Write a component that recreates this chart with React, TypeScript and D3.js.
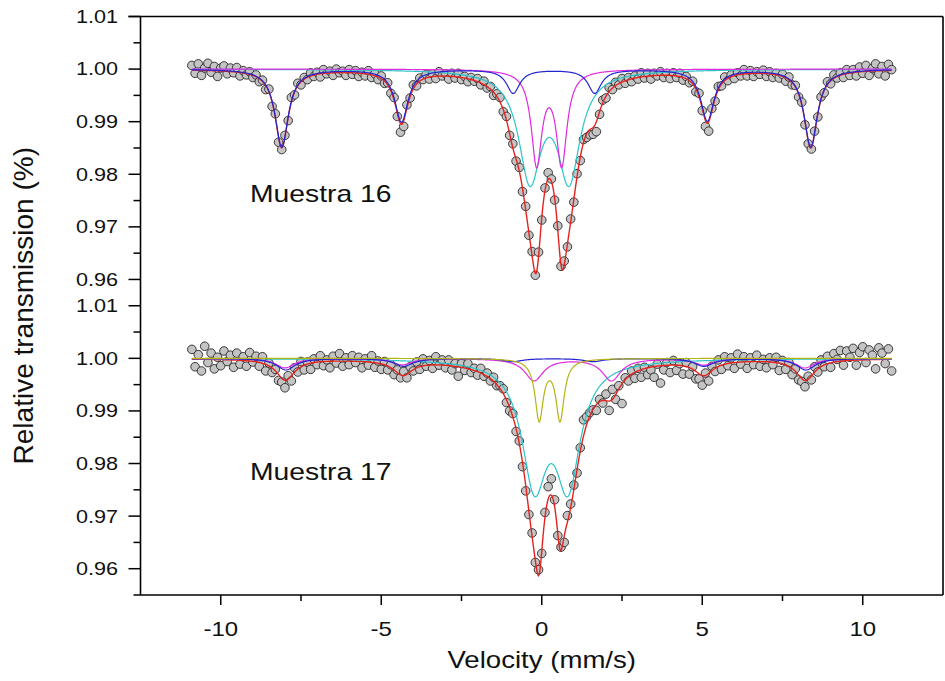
import React from "react";
import * as d3 from "d3";

// ---------- DATA ----------
// Doppler velocity of each channel (mm/s), shared by both spectra
const VELOCITY = [
  -10.9, -10.8, -10.7, -10.6, -10.5, -10.4, -10.3, -10.2, -10.1, -10.0,
  -9.9, -9.8, -9.7, -9.6, -9.5, -9.4, -9.3, -9.2, -9.1, -9.0,
  -8.9, -8.8, -8.7, -8.6, -8.5, -8.4, -8.3, -8.2, -8.1, -8.0,
  -7.9, -7.8, -7.7, -7.6, -7.5, -7.4, -7.3, -7.2, -7.1, -7.0,
  -6.9, -6.8, -6.7, -6.6, -6.5, -6.4, -6.3, -6.2, -6.1, -6.0,
  -5.9, -5.8, -5.7, -5.6, -5.5, -5.4, -5.3, -5.2, -5.1, -5.0,
  -4.9, -4.8, -4.7, -4.6, -4.5, -4.4, -4.3, -4.2, -4.1, -4.0,
  -3.9, -3.8, -3.7, -3.6, -3.5, -3.4, -3.3, -3.2, -3.1, -3.0,
  -2.9, -2.8, -2.7, -2.6, -2.5, -2.4, -2.3, -2.2, -2.1, -2.0,
  -1.9, -1.8, -1.7, -1.6, -1.5, -1.4, -1.3, -1.2, -1.1, -1.0,
  -0.9, -0.8, -0.7, -0.6, -0.5, -0.4, -0.3, -0.2, -0.1, 0.0,
  0.1, 0.2, 0.3, 0.4, 0.5, 0.6, 0.7, 0.8, 0.9, 1.0,
  1.1, 1.2, 1.3, 1.4, 1.5, 1.6, 1.7, 1.8, 1.9, 2.0,
  2.1, 2.2, 2.3, 2.4, 2.5, 2.6, 2.7, 2.8, 2.9, 3.0,
  3.1, 3.2, 3.3, 3.4, 3.5, 3.6, 3.7, 3.8, 3.9, 4.0,
  4.1, 4.2, 4.3, 4.4, 4.5, 4.6, 4.7, 4.8, 4.9, 5.0,
  5.1, 5.2, 5.3, 5.4, 5.5, 5.6, 5.7, 5.8, 5.9, 6.0,
  6.1, 6.2, 6.3, 6.4, 6.5, 6.6, 6.7, 6.8, 6.9, 7.0,
  7.1, 7.2, 7.3, 7.4, 7.5, 7.6, 7.7, 7.8, 7.9, 8.0,
  8.1, 8.2, 8.3, 8.4, 8.5, 8.6, 8.7, 8.8, 8.9, 9.0,
  9.1, 9.2, 9.3, 9.4, 9.5, 9.6, 9.7, 9.8, 9.9, 10.0,
  10.1, 10.2, 10.3, 10.4, 10.5, 10.6, 10.7, 10.8, 10.9,
];

// Measured relative transmission, Muestra 16
const T_MUESTRA16 = [
  1.0007, 0.9992, 1.0010, 0.9988, 1.0002, 1.0011, 0.9994, 1.0005, 0.9986, 1.0002,
  1.0006, 0.9991, 1.0002, 0.9993, 1.0003, 0.9987, 0.9997, 0.9989, 0.9995, 0.9984,
  0.9989, 0.9976, 0.9979, 0.9961, 0.9962, 0.9929, 0.9915, 0.9861, 0.9847, 0.9874,
  0.9902, 0.9946, 0.9951, 0.9973, 0.9970, 0.9984, 0.9980, 0.9993, 0.9986, 0.9994,
  0.9985, 0.9999, 0.9991, 0.9996, 0.9988, 1.0000, 0.9993, 0.9996, 0.9988, 0.9999,
  0.9990, 0.9997, 0.9986, 0.9994, 0.9987, 0.9997, 0.9984, 0.9991, 0.9980, 0.9987,
  0.9973, 0.9974, 0.9954, 0.9946, 0.9910, 0.9880, 0.9891, 0.9932, 0.9945, 0.9970,
  0.9968, 0.9983, 0.9980, 0.9990, 0.9981, 0.9991, 0.9982, 0.9995, 0.9987, 0.9991,
  0.9981, 0.9992, 0.9983, 0.9992, 0.9980, 0.9986, 0.9976, 0.9984, 0.9977, 0.9982,
  0.9970, 0.9977, 0.9964, 0.9967, 0.9950, 0.9953, 0.9946, 0.9919, 0.9910, 0.9874,
  0.9858, 0.9825, 0.9813, 0.9767, 0.9739, 0.9684, 0.9653, 0.9608, 0.9652, 0.9713,
  0.9774, 0.9803, 0.9791, 0.9751, 0.9702, 0.9625, 0.9635, 0.9662, 0.9715, 0.9747,
  0.9801, 0.9826, 0.9866, 0.9870, 0.9875, 0.9876, 0.9881, 0.9914, 0.9941, 0.9945,
  0.9965, 0.9961, 0.9975, 0.9970, 0.9982, 0.9973, 0.9984, 0.9976, 0.9987, 0.9981,
  0.9993, 0.9983, 0.9992, 0.9981, 0.9992, 0.9987, 0.9995, 0.9984, 0.9992, 0.9982,
  0.9993, 0.9984, 0.9992, 0.9979, 0.9986, 0.9974, 0.9977, 0.9957, 0.9954, 0.9921,
  0.9891, 0.9882, 0.9925, 0.9939, 0.9967, 0.9968, 0.9985, 0.9978, 0.9989, 0.9982,
  0.9993, 0.9987, 0.9999, 0.9987, 0.9997, 0.9986, 0.9995, 0.9990, 0.9998, 0.9986,
  0.9995, 0.9984, 0.9992, 0.9983, 0.9990, 0.9977, 0.9985, 0.9970, 0.9969, 0.9947,
  0.9937, 0.9894, 0.9858, 0.9848, 0.9882, 0.9909, 0.9947, 0.9955, 0.9976, 0.9972,
  0.9989, 0.9983, 0.9993, 0.9984, 0.9999, 0.9988, 0.9999, 0.9987, 1.0004, 0.9992,
  1.0007, 0.9988, 1.0001, 1.0010, 0.9991, 1.0005, 0.9987, 1.0009, 0.9999,
];

// Measured relative transmission, Muestra 17
const T_MUESTRA17 = [
  1.0017, 0.9984, 1.0007, 0.9976, 1.0023, 0.9992, 1.0010, 0.9980, 1.0002, 0.9986,
  1.0014, 0.9994, 1.0006, 0.9983, 1.0010, 0.9989, 1.0003, 0.9985, 1.0011, 0.9993,
  1.0004, 0.9985, 1.0003, 0.9976, 0.9991, 0.9973, 0.9979, 0.9958, 0.9955, 0.9944,
  0.9967, 0.9957, 0.9982, 0.9974, 0.9994, 0.9978, 0.9993, 0.9979, 0.9999, 0.9988,
  1.0005, 0.9986, 0.9997, 0.9982, 1.0004, 0.9991, 1.0009, 0.9985, 1.0001, 0.9988,
  1.0005, 0.9992, 1.0002, 0.9982, 0.9999, 0.9987, 1.0005, 0.9983, 0.9995, 0.9979,
  0.9994, 0.9978, 0.9988, 0.9969, 0.9978, 0.9963, 0.9975, 0.9963, 0.9984, 0.9976,
  0.9993, 0.9979, 0.9999, 0.9985, 0.9996, 0.9981, 1.0003, 0.9987, 0.9997, 0.9982,
  0.9997, 0.9978, 0.9990, 0.9966, 0.9990, 0.9977, 0.9990, 0.9973, 0.9981, 0.9968,
  0.9981, 0.9966, 0.9972, 0.9957, 0.9964, 0.9948, 0.9948, 0.9942, 0.9916, 0.9900,
  0.9895, 0.9861, 0.9843, 0.9794, 0.9748, 0.9703, 0.9668, 0.9612, 0.9598, 0.9629,
  0.9707, 0.9756, 0.9771, 0.9731, 0.9663, 0.9641, 0.9650, 0.9701, 0.9723, 0.9759,
  0.9782, 0.9830, 0.9883, 0.9889, 0.9897, 0.9902, 0.9901, 0.9922, 0.9915, 0.9932,
  0.9901, 0.9941, 0.9922, 0.9948, 0.9914, 0.9963, 0.9957, 0.9976, 0.9962, 0.9981,
  0.9964, 0.9983, 0.9969, 0.9978, 0.9964, 0.9989, 0.9953, 0.9978, 0.9992, 0.9973,
  0.9996, 0.9977, 0.9990, 0.9970, 0.9992, 0.9970, 0.9984, 0.9961, 0.9961, 0.9949,
  0.9972, 0.9957, 0.9985, 0.9975, 0.9997, 0.9979, 1.0003, 0.9986, 1.0001, 0.9981,
  1.0008, 0.9989, 1.0003, 0.9981, 1.0001, 0.9988, 1.0006, 0.9985, 0.9998, 0.9982,
  1.0001, 0.9988, 1.0002, 0.9977, 0.9996, 0.9979, 0.9992, 0.9969, 0.9980, 0.9959,
  0.9956, 0.9946, 0.9966, 0.9959, 0.9984, 0.9974, 0.9997, 0.9984, 1.0004, 0.9983,
  1.0009, 0.9998, 1.0015, 0.9987, 1.0014, 1.0002, 1.0019, 0.9987, 1.0011, 1.0022,
  0.9992, 1.0016, 1.0006, 0.9980, 1.0020, 1.0010, 0.9990, 1.0018, 0.9976,
];

// Fitted sub-spectra: line positions (mm/s), absorption depths, half widths (mm/s)
const M16_SEXTET_POS = [-8.10, -4.37, -0.89, 1.65, 5.16, 8.38];
const M16_SEXTET_DEPTH = [0.0148, 0.0100, 0.0045, 0.0045, 0.0098, 0.0148];
const M16_SEXTET_HW = [0.25, 0.25, 0.25, 0.25, 0.25, 0.25];
const M16_DOUBLET_A_POS = [-0.16, 0.62];
const M16_DOUBLET_A_DEPTH = [0.0177, 0.0177];
const M16_DOUBLET_A_HW = [0.2, 0.2];
const M16_DOUBLET_B_POS = [-0.37, 0.85];
const M16_DOUBLET_B_DEPTH = [0.0202, 0.0202];
const M16_DOUBLET_B_HW = [0.42, 0.42];

const M17_SEXTET1_POS = [-7.97, -4.30, -0.90, 1.60, 5.05, 8.23];
const M17_SEXTET1_DEPTH = [0.0022, 0.0015, 0.0006, 0.0006, 0.0015, 0.0022];
const M17_SEXTET1_HW = [0.35, 0.35, 0.35, 0.35, 0.35, 0.35];
const M17_SEXTET2_POS = [-8.00, -4.35, -0.24, 2.17, 5.05, 8.20];
const M17_SEXTET2_DEPTH = [0.0018, 0.0012, 0.0042, 0.0042, 0.0012, 0.0018];
const M17_SEXTET2_HW = [0.35, 0.35, 0.35, 0.35, 0.35, 0.35];
const M17_DOUBLET_A_POS = [-0.08, 0.57];
const M17_DOUBLET_A_DEPTH = [0.0115, 0.0115];
const M17_DOUBLET_A_HW = [0.155, 0.155];
const M17_DOUBLET_B_POS = [-0.23, 0.82];
const M17_DOUBLET_B_DEPTH = [0.0225, 0.0225];
const M17_DOUBLET_B_HW = [0.47, 0.47];

const SAMPLE_LABELS = ["Muestra 16", "Muestra 17"];
const Y_MAJOR = [0.96, 0.97, 0.98, 0.99, 1.0, 1.01];
const Y_MINOR = [0.965, 0.975, 0.985, 0.995, 1.005];
const X_MAJOR = [-10, -5, 0, 5, 10];
const X_MINOR = [-7.5, -2.5, 2.5, 7.5];
const X_TITLE = "Velocity (mm/s)";
const Y_TITLE = "Relative transmission (%)";

// ---------- STYLE ----------
const COLORS = {
  total: "#e4231f",
  blue: "#2424d4",
  magenta: "#e02ae0",
  cyan: "#2cc4c8",
  olive: "#b4b414",
};
const FONT = "'Liberation Sans', Arial, Helvetica, sans-serif";

type Comp = { pos: number[]; depth: number[]; hw: number[]; color: string };

const W = 945;
const H = 681;
const LEFT = 140.5;
const RIGHT = 943;
const TOP = 16.5;
const BOTTOM = 595;
const PANEL_H = (BOTTOM - TOP) / 2;

const x = d3.scaleLinear().domain([-12.5, 12.5]).range([LEFT, RIGHT]);
const yTop = d3.scaleLinear().domain([0.955, 1.01]).range([TOP + PANEL_H, TOP]);
const yBot = d3.scaleLinear().domain([0.955, 1.01]).range([BOTTOM, TOP + PANEL_H]);

function absorption(v: number, c: Comp) {
  return d3.sum(c.pos, (p, i) => c.depth[i] / (1 + ((v - p) / c.hw[i]) ** 2));
}

const FIT_GRID = d3.range(VELOCITY[0], VELOCITY[VELOCITY.length - 1] + 1e-9, 0.02);

function Panel({
  y,
  data,
  comps,
  label,
  labelY,
}: {
  y: d3.ScaleLinear<number, number>;
  data: number[];
  comps: Comp[];
  label: string;
  labelY: number;
}) {
  const line = d3
    .line<[number, number]>()
    .x((d) => x(d[0]))
    .y((d) => y(d[1]));
  const total = FIT_GRID.map(
    (v) => [v, 1 - d3.sum(comps, (c) => absorption(v, c))] as [number, number]
  );
  return (
    <g>
      {VELOCITY.map((v, i) => (
        <circle
          key={i}
          cx={x(v)}
          cy={y(data[i])}
          r={4.3}
          fill="#c4c4c4"
          stroke="#262626"
          strokeWidth={0.9}
        />
      ))}
      <path d={line(total) || ""} fill="none" stroke={COLORS.total} strokeWidth={1.4} />
      {comps.map((c, k) => (
        <path
          key={k}
          d={line(FIT_GRID.map((v) => [v, 1 - absorption(v, c)] as [number, number])) || ""}
          fill="none"
          stroke={c.color}
          strokeWidth={1.2}
        />
      ))}
      {Y_MAJOR.map((t) => (
        <g key={"M" + t}>
          <line x1={LEFT - 12} x2={LEFT} y1={y(t)} y2={y(t)} stroke="#000" strokeWidth={1.5} />
          <text
            transform={`translate(118,${y(t) + 6.4}) scale(1.2,1)`}
            textAnchor="end"
            fontFamily={FONT}
            fontSize={18}
            fill="#111"
          >
            {d3.format(".2f")(t)}
          </text>
        </g>
      ))}
      {Y_MINOR.map((t) => (
        <line key={"m" + t} x1={LEFT - 7} x2={LEFT} y1={y(t)} y2={y(t)} stroke="#000" strokeWidth={1.5} />
      ))}
      <text
        transform={`translate(250,${labelY}) scale(1.18,1)`}
        fontFamily={FONT}
        fontSize={24}
        fill="#111"
      >
        {label}
      </text>
    </g>
  );
}

export default function App() {
  const comps16: Comp[] = [
    { pos: M16_DOUBLET_B_POS, depth: M16_DOUBLET_B_DEPTH, hw: M16_DOUBLET_B_HW, color: COLORS.cyan },
    { pos: M16_DOUBLET_A_POS, depth: M16_DOUBLET_A_DEPTH, hw: M16_DOUBLET_A_HW, color: COLORS.magenta },
    { pos: M16_SEXTET_POS, depth: M16_SEXTET_DEPTH, hw: M16_SEXTET_HW, color: COLORS.blue },
  ];
  const comps17: Comp[] = [
    { pos: M17_DOUBLET_B_POS, depth: M17_DOUBLET_B_DEPTH, hw: M17_DOUBLET_B_HW, color: COLORS.cyan },
    { pos: M17_SEXTET2_POS, depth: M17_SEXTET2_DEPTH, hw: M17_SEXTET2_HW, color: COLORS.magenta },
    { pos: M17_SEXTET1_POS, depth: M17_SEXTET1_DEPTH, hw: M17_SEXTET1_HW, color: COLORS.blue },
    { pos: M17_DOUBLET_A_POS, depth: M17_DOUBLET_A_DEPTH, hw: M17_DOUBLET_A_HW, color: COLORS.olive },
  ];
  return (
    <svg
      width={W}
      height={H}
      viewBox={`0 0 ${W} ${H}`}
      style={{ position: "absolute", left: 0, top: 0, background: "#fff", display: "block" }}
    >
      <rect x={0} y={0} width={W} height={H} fill="#fff" />
      <Panel y={yTop} data={T_MUESTRA16} comps={comps16} label={SAMPLE_LABELS[0]} labelY={202} />
      <Panel y={yBot} data={T_MUESTRA17} comps={comps17} label={SAMPLE_LABELS[1]} labelY={480} />
      {/* frame */}
      <line x1={LEFT} x2={LEFT} y1={TOP} y2={BOTTOM} stroke="#000" strokeWidth={1.6} />
      <line x1={LEFT - 12} x2={RIGHT} y1={TOP} y2={TOP} stroke="#000" strokeWidth={1.6} />
      <line x1={RIGHT} x2={RIGHT} y1={TOP} y2={BOTTOM} stroke="#000" strokeWidth={1.6} />
      <line x1={LEFT - 7} x2={RIGHT} y1={BOTTOM} y2={BOTTOM} stroke="#000" strokeWidth={1.6} />
      {X_MAJOR.map((t) => (
        <g key={"xM" + t}>
          <line x1={x(t)} x2={x(t)} y1={BOTTOM} y2={BOTTOM + 10} stroke="#000" strokeWidth={1.5} />
          <text
            transform={`translate(${x(t)},636) scale(1.2,1)`}
            textAnchor="middle"
            fontFamily={FONT}
            fontSize={20}
            fill="#111"
          >
            {String(t)}
          </text>
        </g>
      ))}
      {X_MINOR.map((t) => (
        <line key={"xm" + t} x1={x(t)} x2={x(t)} y1={BOTTOM} y2={BOTTOM + 6} stroke="#000" strokeWidth={1.5} />
      ))}
      <text
        transform={`translate(${x(0)},668) scale(1.2,1)`}
        textAnchor="middle"
        fontFamily={FONT}
        fontSize={23}
        fill="#111"
      >
        {X_TITLE}
      </text>
      <text
        transform={`translate(33,${(TOP + BOTTOM) / 2}) rotate(-90)`}
        textAnchor="middle"
        fontFamily={FONT}
        fontSize={28}
        fill="#111"
      >
        {Y_TITLE}
      </text>
    </svg>
  );
}
